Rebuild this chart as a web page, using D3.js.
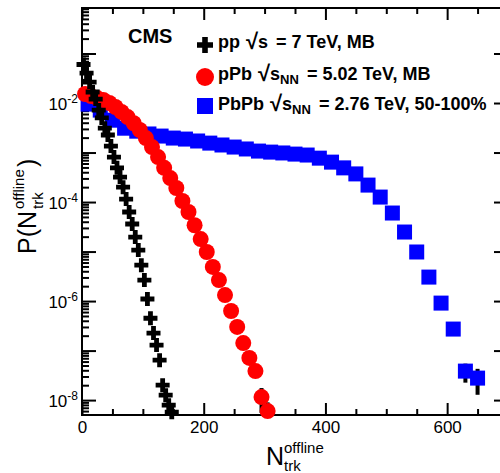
<!doctype html>
<html lang="en">
<head>
<meta charset="utf-8">
<title>Multiplicity distributions</title>
<script src="https://cdn.jsdelivr.net/npm/d3@7"></script>
<style>
  body { margin: 0; background: #fff; overflow: hidden; }
  svg { display: block; font-family: "Liberation Sans", Arial, Helvetica, sans-serif; }
</style>
</head>
<body>
<svg id="chart" width="500" height="473"></svg>
<script>

// pp 7 TeV, MB
var ppX = [2.5, 7.5, 12.5, 17.5, 22.5, 27.5, 32.5, 37.5, 42.5, 47.5, 52.5, 57.5, 62.5, 67.5, 72.5,
           77.5, 82.5, 87.5, 92.5, 97.5, 102.5, 107.5, 112.5, 117.5, 122.5, 127.5, 132.5, 137.5, 142.5, 147.5];
var ppY = [6.0e-2, 4.0e-2, 2.65e-2, 1.67e-2, 1.2e-2, 7.2e-3, 5.0e-3, 3.1e-3, 2.26e-3, 1.35e-3,
           8.1e-4, 4.9e-4, 3.2e-4, 2.0e-4, 1.15e-4, 6.3e-5, 3.6e-5, 1.96e-5, 1.07e-5, 5.3e-6,
           2.65e-6, 1.1e-6, 4.5e-7, 2.26e-7, 1.29e-7, 6.4e-8, 2.0e-8, 1.26e-8, 7.9e-9, 5.7e-9];

// pPb 5.02 TeV, MB
var pPbX = [5, 15, 25, 35, 45, 55, 65, 75, 85, 95, 105, 115, 125, 135, 145, 155,
            165, 175, 185, 195, 205, 215, 225, 235, 245, 255, 265, 275, 285, 295, 305];
var pPbY = [1.52e-2, 1.38e-2, 1.26e-2, 1.15e-2, 1.0e-2, 8.3e-3, 6.6e-3, 5.2e-3, 3.9e-3, 2.85e-3,
            1.96e-3, 1.29e-3, 8.1e-4, 4.9e-4, 3.05e-4, 1.92e-4, 1.05e-4, 6.3e-5, 3.4e-5, 1.79e-5,
            9.8e-6, 4.9e-6, 2.65e-6, 1.32e-6, 6.3e-7, 3.0e-7, 1.42e-7, 7.1e-8, 3.85e-8, 1.15e-8, 6.0e-9];
var pPbErr = [0, 0, 0, 0, 0, 0, 0, 0, 0, 0, 0, 0, 0, 0, 0, 0,
              0, 0, 0, 0, 0, 0, 0, 0, 0, 0, 0, 0, 0, 0.6e-8, 3.0e-9];

// PbPb 2.76 TeV, 50-100%
var PbPbX = [10, 30, 50, 70, 90, 110, 130, 150, 170, 190, 210, 230, 250, 270, 290, 310, 330,
             350, 370, 390, 410, 430, 450, 470, 490, 510, 530, 550, 570, 590, 610, 630, 650];
var PbPbY = [9.5e-3, 7.2e-3, 4.5e-3, 3.1e-3, 2.7e-3, 2.37e-3, 2.15e-3, 1.96e-3, 1.87e-3, 1.71e-3,
             1.55e-3, 1.42e-3, 1.29e-3, 1.18e-3, 1.07e-3, 1.02e-3, 9.8e-4, 9.3e-4, 8.9e-4, 7.7e-4,
             6.4e-4, 4.9e-4, 3.7e-4, 2.2e-4, 1.26e-4, 6.0e-5, 2.48e-5, 9.8e-6, 3.05e-6, 9.1e-7,
             2.72e-7, 3.85e-8, 2.78e-8];
var PbPbErr = [0, 0, 0, 0, 0, 0, 0, 0, 0, 0, 0, 0, 0, 0, 0, 0, 0,
               0, 0, 0, 0, 0, 0, 0, 0, 0, 0, 0, 0, 0, 0, 1.6e-8, 1.5e-8];

var xMajor = [0, 200, 400, 600];
var yLabelExp = [-8, -6, -4, -2];

var svg = d3.select("#chart");
var padL = 82, padR = 508, padT = 8, padB = 415;

var x = d3.scaleLinear().domain([0, 700]).range([padL, padR]);
var y = d3.scaleLog().domain([5e-9, 0.83]).range([padB, padT]);

// ticks
var xMinor = d3.range(50, 700, 50).filter(d => xMajor.indexOf(d) < 0);
var yMajor = d3.range(-8, 0).map(e => Math.pow(10, e));
var yMinor = [];
for (var e = -9; e <= -1; e++) {
  for (var m = 2; m <= 9; m++) {
    var v = m * Math.pow(10, e);
    if (v > 5e-9 && v < 0.83) yMinor.push(v);
  }
}

function ticks(gen, tr) {
  var g = svg.append("g").attr("transform", tr).call(gen);
  g.select(".domain").remove();
  g.selectAll("line").attr("stroke", "#000").attr("stroke-width", 2);
  return g;
}

var gx = ticks(d3.axisBottom(x).tickValues(xMajor).tickSize(-12).tickPadding(6).tickFormat(d => d),
  "translate(0," + padB + ")");
gx.selectAll("text").attr("font-size", 17).attr("fill", "#000");
gx.attr("font-family", null).attr("font-size", null);
ticks(d3.axisBottom(x).tickValues(xMinor).tickSize(-6).tickFormat(""), "translate(0," + padB + ")");
ticks(d3.axisTop(x).tickValues(xMajor).tickSize(-12).tickFormat(""), "translate(0," + padT + ")");
ticks(d3.axisTop(x).tickValues(xMinor).tickSize(-6).tickFormat(""), "translate(0," + padT + ")");

ticks(d3.axisLeft(y).tickValues(yMajor).tickSize(-14).tickFormat(""), "translate(" + padL + ",0)");
ticks(d3.axisLeft(y).tickValues(yMinor).tickSize(-7).tickFormat(""), "translate(" + padL + ",0)");
ticks(d3.axisRight(y).tickValues(yMajor).tickSize(-14).tickFormat(""), "translate(" + padR + ",0)");
ticks(d3.axisRight(y).tickValues(yMinor).tickSize(-7).tickFormat(""), "translate(" + padR + ",0)");

// y tick labels 10^n
var yl = svg.append("g").selectAll("text").data(yLabelExp).join("text")
  .attr("x", 78)
  .attr("y", d => y(Math.pow(10, d)) + 7)
  .attr("text-anchor", "end")
  .attr("font-size", 17);
yl.append("tspan").text("10");
yl.append("tspan").attr("font-size", 12).attr("dy", -7).text(d => "-" + Math.abs(d));

// frame
svg.append("rect")
  .attr("x", padL).attr("y", padT)
  .attr("width", padR - padL).attr("height", padB - padT)
  .attr("fill", "none").attr("stroke", "#000").attr("stroke-width", 2);

// axis titles
svg.append("text").attr("x", 266).attr("y", 465).attr("font-size", 25).text("N");
svg.append("text").attr("x", 284).attr("y", 453).attr("font-size", 15).text("offline");
svg.append("text").attr("x", 284).attr("y", 471).attr("font-size", 15).text("trk");

var yt = svg.append("g").attr("transform", "translate(36,254) rotate(-90)");
yt.append("text").attr("x", 0).attr("y", 0).attr("font-size", 25).text("P(N");
yt.append("text").attr("x", 45).attr("y", -12).attr("font-size", 15).text("offline");
yt.append("text").attr("x", 45).attr("y", 7).attr("font-size", 15).text("trk");
yt.append("text").attr("x", 87).attr("y", 0).attr("font-size", 25).text(")");

// data
svg.append("clipPath").attr("id", "plotclip")
  .append("rect").attr("x", padL).attr("y", padT).attr("width", padR - padL).attr("height", padB - padT);

function crossPath(a, w) {
  return "M" + (-w) + "," + (-a) + "H" + w + "V" + (-w) + "H" + a + "V" + w + "H" + w + "V" + a +
    "H" + (-w) + "V" + w + "H" + (-a) + "V" + (-w) + "H" + (-w) + "Z";
}

function errBars(xs, ys, errs) {
  var d = xs.map((v, i) => ({ x: v, y: ys[i], e: errs[i] })).filter(p => p.e > 0);
  svg.append("g").attr("clip-path", "url(#plotclip)")
    .selectAll("line").data(d).join("line")
    .attr("x1", p => x(p.x)).attr("x2", p => x(p.x))
    .attr("y1", p => y(p.y + p.e)).attr("y2", p => y(Math.max(p.y - p.e, 1e-12)))
    .attr("stroke", "#000").attr("stroke-width", 4);
}

var PbPb = PbPbX.map((v, i) => ({ x: v, y: PbPbY[i] }));
var pPb = pPbX.map((v, i) => ({ x: v, y: pPbY[i] }));
var pp = ppX.map((v, i) => ({ x: v, y: ppY[i] }));

errBars(PbPbX, PbPbY, PbPbErr);
svg.append("g").selectAll("rect").data(PbPb).join("rect")
  .attr("x", d => x(d.x) - 7.5).attr("y", d => y(d.y) - 7.5)
  .attr("width", 15).attr("height", 15)
  .attr("fill", "#0000ff");

errBars(pPbX, pPbY, pPbErr);
svg.append("g").selectAll("circle").data(pPb).join("circle")
  .attr("cx", d => x(d.x)).attr("cy", d => y(d.y)).attr("r", 8)
  .attr("fill", "#ff0000");

svg.append("g").selectAll("path").data(pp).join("path")
  .attr("transform", d => "translate(" + x(d.x) + "," + y(d.y) + ")")
  .attr("d", crossPath(7, 2.4))
  .attr("fill", "#000");

// legend
svg.append("text").attr("x", 128).attr("y", 43)
  .attr("font-size", 20).attr("font-weight", "bold").text("CMS");

var lg = svg.append("g").attr("font-weight", "bold").attr("font-size", 18);
lg.append("path").attr("transform", "translate(205,45)").attr("d", crossPath(8, 2.8)).attr("fill", "#000");
lg.append("circle").attr("cx", 205).attr("cy", 77).attr("r", 9).attr("fill", "#ff0000");
lg.append("rect").attr("x", 197).attr("y", 98).attr("width", 16).attr("height", 16).attr("fill", "#0000ff");

// "name  √s_NN = ..." with a slightly larger radical, like ROOT's #sqrt
function legendLine(yPos, name, sub, rest) {
  var t = lg.append("text").attr("x", 218).attr("y", yPos);
  t.append("tspan").text(name);
  t.append("tspan").attr("dx", 6).attr("font-size", 22).attr("dy", 1).text("\u221A");
  t.append("tspan").attr("dy", -1).text("s");
  if (sub) {
    t.append("tspan").attr("font-size", 13).attr("dy", 4).text(sub);
    t.append("tspan").attr("dy", -4).attr("dx", 3).text(rest);
  } else {
    t.append("tspan").attr("dx", 3).text(rest);
  }
}
legendLine(48, "pp", null, " = 7 TeV, MB");
legendLine(80, "pPb", "NN", " = 5.02 TeV, MB");
legendLine(110, "PbPb", "NN", " = 2.76 TeV, 50-100%");

</script>
</body>
</html>
